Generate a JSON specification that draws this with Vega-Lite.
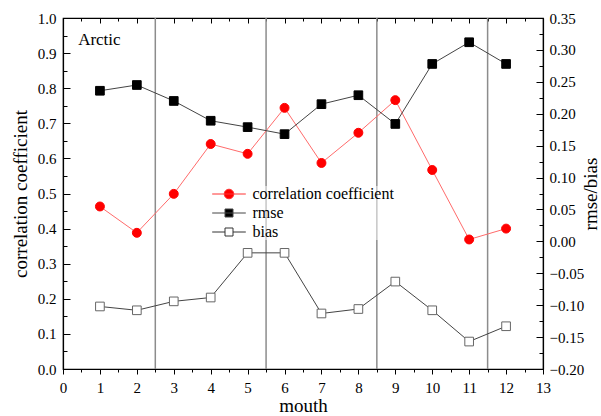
{
  "$schema": "https://vega.github.io/schema/vega-lite/v6.json",
  "width": 480,
  "height": 351,
  "autosize": {"type": "none"},
  "padding": {"left": 63, "top": 18, "right": 58, "bottom": 47},
  "background": "white",
  "config": {
    "view": {"stroke": "black", "strokeWidth": 1.2},
    "font": "Liberation Serif",
    "style": {
      "guide-label": {"font": "Liberation Serif", "fill": "black"},
      "guide-title": {"font": "Liberation Serif", "fill": "black", "fontWeight": "normal"}
    },
    "axis": {
      "labelFont": "Liberation Serif", "titleFont": "Liberation Serif",
      "labelFontSize": 15, "titleFontSize": 19, "titleFontWeight": "normal",
      "labelColor": "black", "titleColor": "black",
      "domainColor": "black", "domainWidth": 1.2,
      "tickColor": "black", "tickWidth": 1, "grid": false,
      "labelFlush": false, "labelOverlap": false
    },
    "legend": {"labelFont": "Liberation Serif"}
  },
  "datasets": {
    "metrics": [
      {"month": 1, "series": "correlation coefficient", "value": 0.463},
      {"month": 2, "series": "correlation coefficient", "value": 0.388},
      {"month": 3, "series": "correlation coefficient", "value": 0.499},
      {"month": 4, "series": "correlation coefficient", "value": 0.641},
      {"month": 5, "series": "correlation coefficient", "value": 0.613},
      {"month": 6, "series": "correlation coefficient", "value": 0.744},
      {"month": 7, "series": "correlation coefficient", "value": 0.587},
      {"month": 8, "series": "correlation coefficient", "value": 0.673},
      {"month": 9, "series": "correlation coefficient", "value": 0.766},
      {"month": 10, "series": "correlation coefficient", "value": 0.567},
      {"month": 11, "series": "correlation coefficient", "value": 0.369},
      {"month": 12, "series": "correlation coefficient", "value": 0.400},
      {"month": 1, "series": "rmse", "value": 0.236},
      {"month": 2, "series": "rmse", "value": 0.245},
      {"month": 3, "series": "rmse", "value": 0.220},
      {"month": 4, "series": "rmse", "value": 0.189},
      {"month": 5, "series": "rmse", "value": 0.179},
      {"month": 6, "series": "rmse", "value": 0.168},
      {"month": 7, "series": "rmse", "value": 0.215},
      {"month": 8, "series": "rmse", "value": 0.229},
      {"month": 9, "series": "rmse", "value": 0.184},
      {"month": 10, "series": "rmse", "value": 0.278},
      {"month": 11, "series": "rmse", "value": 0.312},
      {"month": 12, "series": "rmse", "value": 0.278},
      {"month": 1, "series": "bias", "value": -0.102},
      {"month": 2, "series": "bias", "value": -0.108},
      {"month": 3, "series": "bias", "value": -0.094},
      {"month": 4, "series": "bias", "value": -0.088},
      {"month": 5, "series": "bias", "value": -0.018},
      {"month": 6, "series": "bias", "value": -0.018},
      {"month": 7, "series": "bias", "value": -0.113},
      {"month": 8, "series": "bias", "value": -0.106},
      {"month": 9, "series": "bias", "value": -0.063},
      {"month": 10, "series": "bias", "value": -0.108},
      {"month": 11, "series": "bias", "value": -0.157},
      {"month": 12, "series": "bias", "value": -0.133}
    ],
    "boundaries": [{"boundary": 2.5}, {"boundary": 5.5}, {"boundary": 8.5}, {"boundary": 11.5}],
    "regions": [{"region": "Arctic"}]
  },
  "resolve": {"scale": {"y": "independent", "shape": "independent", "fill": "independent", "stroke": "independent"}},
  "layer": [
    {
      "data": {"name": "boundaries"},
      "mark": {"type": "rule", "color": "#8c8c8c", "strokeWidth": 1.5},
      "encoding": {
        "x": {
          "field": "boundary", "type": "quantitative",
          "scale": {"domain": [0, 13], "nice": false, "zero": false},
          "axis": {
            "orient": "bottom", "title": "mouth",
            "labelFont": "Liberation Serif", "titleFont": "Liberation Serif",
            "values": [0, 0.5, 1, 1.5, 2, 2.5, 3, 3.5, 4, 4.5, 5, 5.5, 6, 6.5, 7, 7.5, 8, 8.5, 9, 9.5, 10, 10.5, 11, 11.5, 12, 12.5, 13],
            "labelExpr": "datum.value % 1 === 0 ? format(datum.value, 'd') : ''",
            "tickSize": {"condition": {"test": "datum.value % 1 !== 0", "value": 3}, "value": 5},
            "labelPadding": 6, "titlePadding": 1
          }
        }
      }
    },
    {
      "data": {"name": "metrics"},
      "transform": [{"filter": "datum.series === 'correlation coefficient'"}],
      "mark": {"type": "line", "color": "#ff6b6b", "strokeWidth": 1},
      "encoding": {
        "x": {
          "field": "month", "type": "quantitative",
          "axis": {
            "orient": "top", "title": null, "labels": false, "domain": false,
            "values": [0, 1, 2, 3, 4, 5, 6, 7, 8, 9, 10, 11, 12, 13],
            "tickSize": -5
          }
        },
        "y": {
          "field": "value", "type": "quantitative",
          "scale": {"domain": [0, 1], "nice": false, "zero": false},
          "axis": {
            "orient": "left", "title": "correlation coefficient",
            "labelFont": "Liberation Serif", "titleFont": "Liberation Serif",
            "values": [0, 0.1, 0.2, 0.3, 0.4, 0.5, 0.6, 0.7, 0.8, 0.9, 1],
            "format": ".1f",
            "tickSize": -7,
            "labelPadding": 14, "titlePadding": 7
          }
        }
      }
    },
    {
      "data": {"name": "metrics"},
      "transform": [{"filter": "datum.series === 'correlation coefficient'"}],
      "mark": {"type": "point", "strokeWidth": 1, "opacity": 1},
      "encoding": {
        "x": {
          "field": "month", "type": "quantitative",
          "axis": {
            "orient": "top", "title": null, "labels": false, "domain": false,
            "values": [0.5, 1.5, 2.5, 3.5, 4.5, 5.5, 6.5, 7.5, 8.5, 9.5, 10.5, 11.5, 12.5],
            "tickSize": -3
          }
        },
        "y": {
          "field": "value", "type": "quantitative",
          "scale": {"domain": [0, 1], "nice": false, "zero": false},
          "axis": {
            "orient": "left", "title": null, "labels": false, "domain": false,
            "values": [0.05, 0.15, 0.25, 0.35, 0.45, 0.55, 0.65, 0.75, 0.85, 0.95],
            "tickSize": -4
          }
        },
        "shape": {
          "field": "series", "type": "nominal",
          "scale": {"domain": ["correlation coefficient"], "range": ["circle"]},
          "legend": null
        },
        "fill": {
          "field": "series", "type": "nominal",
          "scale": {"domain": ["correlation coefficient"], "range": ["#ff0000"]},
          "legend": null
        },
        "stroke": {
          "field": "series", "type": "nominal",
          "scale": {"domain": ["correlation coefficient"], "range": ["#ff0000"]},
          "legend": null
        },
        "size": {"value": 80}
      }
    },
    {
      "data": {"name": "regions"},
      "mark": {"type": "text", "align": "left", "baseline": "alphabetic", "fontSize": 17, "font": "Liberation Serif", "color": "black"},
      "encoding": {
        "x": {"datum": 0.41, "type": "quantitative", "axis": null},
        "y": {"datum": 0.923, "type": "quantitative", "axis": null, "scale": {"domain": [0, 1], "nice": false, "zero": false}},
        "text": {"field": "region"}
      }
    },
    {
      "data": {"name": "metrics"},
      "transform": [{"filter": "datum.series !== 'correlation coefficient'"}],
      "mark": {"type": "line", "color": "#444444", "strokeWidth": 1},
      "encoding": {
        "x": {"field": "month", "type": "quantitative", "axis": null},
        "y": {
          "field": "value", "type": "quantitative",
          "scale": {"domain": [-0.2, 0.35], "nice": false, "zero": false},
          "axis": {
            "orient": "right", "title": "rmse/bias", "titleAngle": 270, "titleBaseline": "top",
            "labelFont": "Liberation Serif", "titleFont": "Liberation Serif",
            "values": [-0.2, -0.15, -0.1, -0.05, 0, 0.05, 0.1, 0.15, 0.2, 0.25, 0.3, 0.35],
            "format": ".2f",
            "tickSize": -7,
            "labelPadding": 13, "titlePadding": -2
          }
        },
        "detail": {"field": "series", "type": "nominal"}
      }
    },
    {
      "data": {"name": "metrics"},
      "transform": [{"filter": "datum.series !== 'correlation coefficient'"}],
      "mark": {"type": "point", "strokeWidth": 1, "opacity": 1},
      "encoding": {
        "x": {"field": "month", "type": "quantitative", "axis": null},
        "y": {
          "field": "value", "type": "quantitative",
          "scale": {"domain": [-0.2, 0.35], "nice": false, "zero": false},
          "axis": {
            "orient": "right", "title": null, "labels": false, "domain": false,
            "values": [-0.175, -0.125, -0.075, -0.025, 0.025, 0.075, 0.125, 0.175, 0.225, 0.275, 0.325],
            "tickSize": -4
          }
        },
        "shape": {
          "field": "series", "type": "nominal",
          "scale": {"domain": ["rmse", "bias"], "range": ["square", "square"]},
          "legend": null
        },
        "fill": {
          "field": "series", "type": "nominal",
          "scale": {"domain": ["rmse", "bias"], "range": ["#000000", "#ffffff"]},
          "legend": null
        },
        "stroke": {
          "field": "series", "type": "nominal",
          "scale": {"domain": ["rmse", "bias"], "range": ["#000000", "#666666"]},
          "legend": null
        },
        "size": {"value": 75}
      }
    },
    {
      "data": {"name": "metrics"},
      "mark": {"type": "point", "strokeWidth": 1, "opacity": 1},
      "encoding": {
        "x": {"field": "month", "type": "quantitative", "axis": null},
        "y": {
          "field": "value", "type": "quantitative", "axis": null,
          "scale": {"domain": [-0.2, 1], "nice": false, "zero": false}
        },
        "shape": {
          "field": "series", "type": "nominal",
          "scale": {
            "domain": ["correlation coefficient", "rmse", "bias"],
            "range": [
              "M-4.2,0H4.2M1.2,0A1.2,1.2 0 1,1 -1.2,0A1.2,1.2 0 1,1 1.2,0Z",
              "M-4.2,0H4.2M-1,-1H1V1H-1Z",
              "M-4.2,0H-1M1,0H4.2M-1,-1H1V1H-1Z"
            ]
          },
          "legend": {
            "orient": "none", "legendX": 158, "legendY": 168, "title": null,
            "symbolSize": 64, "labelFontSize": 16, "labelFont": "Liberation Serif", "labelColor": "black",
            "labelOffset": 15.5, "rowPadding": 3, "padding": 0, "symbolStrokeWidth": 1,
            "fillColor": "rgba(255,255,255,0.5)"
          }
        },
        "fill": {
          "field": "series", "type": "nominal",
          "scale": {"domain": ["correlation coefficient", "rmse", "bias"], "range": ["#ff0000", "#000000", "#ffffff"]},
          "legend": null
        },
        "stroke": {
          "field": "series", "type": "nominal",
          "scale": {"domain": ["correlation coefficient", "rmse", "bias"], "range": ["#ff3333", "#444444", "#333333"]},
          "legend": null
        },
        "size": {"value": 0}
      }
    }
  ]
}
